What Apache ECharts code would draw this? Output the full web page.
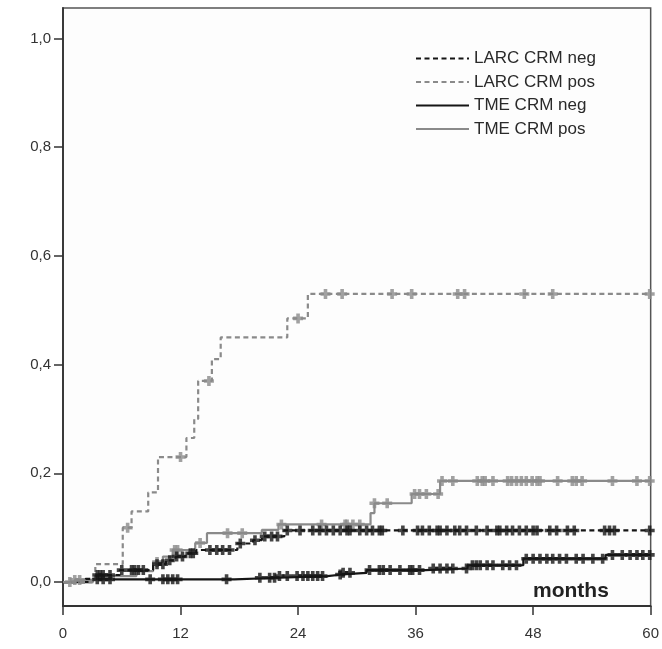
<!DOCTYPE html>
<html>
<head>
<meta charset="utf-8">
<script src="https://cdn.jsdelivr.net/npm/echarts@6/dist/echarts.min.js"></script>
<style>
html,body{margin:0;padding:0;background:#fff;}
#c{width:662px;height:649px;}
</style>
</head>
<body>
<div id="c"></div>
<script>
// Series names
var seriesNames = ['LARC CRM neg', 'LARC CRM pos', 'TME CRM neg', 'TME CRM pos'];
// X tick labels (months)
var xTicks = [0, 12, 24, 36, 48, 60];
// Y tick values
var yTicks = [0, 0.2, 0.4, 0.6, 0.8, 1.0];

// Cumulative incidence step events [month, value]
var larcNegSteps = [[0,0],[2.3,0.006],[3.3,0.013],[5.8,0.022],[9.2,0.033],[10.5,0.040],[11.5,0.047],[12.5,0.053],[13.6,0.059],[17.8,0.071],[19.4,0.077],[20.3,0.084],[22.6,0.095],[60,0.095]];
var larcPosSteps = [[0,0],[3.3,0.033],[6.1,0.10],[7.0,0.13],[8.7,0.165],[9.7,0.23],[12.6,0.265],[13.4,0.30],[13.8,0.37],[15.2,0.41],[16.1,0.45],[22.9,0.485],[25.0,0.53],[60,0.53]];
var tmeNegSteps = [[0,0],[3.0,0.005],[17.5,0.008],[22.0,0.011],[27.0,0.014],[28.5,0.017],[31.0,0.022],[37.0,0.025],[41.3,0.031],[47.0,0.043],[55.4,0.050],[60,0.050]];
var tmePosSteps = [[0,0],[1.2,0.004],[5.0,0.011],[7.5,0.020],[9.2,0.037],[10.2,0.047],[11.2,0.059],[13.5,0.072],[14.7,0.090],[20.3,0.096],[22.0,0.106],[31.4,0.127],[31.8,0.145],[35.6,0.162],[38.5,0.186],[60,0.186]];

// Censoring times (months)
var larcNegCensor = [3.5,3.8,4.1,4.8,6,7,7.3,7.7,8.2,9.6,10.2,10.9,11.6,12.2,13,13.3,15,15.7,16.3,17,18.1,19.6,20.6,21.3,21.9,22.9,24.2,25.5,26.2,26.9,27.6,28.3,29,29.3,30.3,31,31.6,32.3,32.6,34.7,36.2,36.7,37.4,38.2,38.5,39.2,40,40.5,41.2,42.2,43.3,44.3,44.6,45.3,45.9,46.6,47.3,48,48.4,49.7,50.4,51.5,52.2,55.3,55.8,56.3,59.9];
var larcPosCensor = [6.6,12.0,14.9,24.0,26.8,28.5,33.6,35.6,40.3,41.0,47.1,50.0,59.9];
var tmeNegCensor = [3.5,4.1,4.8,8.9,10.2,10.7,11.2,11.7,16.7,20.1,21.1,21.6,22.1,22.9,23.9,24.5,25,25.5,26,26.5,28.3,28.6,29.3,31.3,32.3,32.7,33.4,34.4,35.4,35.7,36.4,37.8,38.5,39.2,39.8,41.2,41.8,42.2,42.6,43.3,43.9,44.9,45.6,46.3,47.3,48,48.7,49.4,50,50.7,51.4,52.4,53.1,54.1,55.1,56.1,57.1,57.9,58.6,59.2,59.9];
var tmePosCensor = [0.7,1.2,1.7,9.6,11.4,11.7,14,16.8,18.3,22.3,26.4,28.8,29,29.6,30.3,31.8,33.1,35.9,36.4,37.1,38.3,38.7,39.8,42.3,42.8,43.1,43.9,45.4,45.8,46.3,46.8,47.3,47.9,48.4,48.7,50.5,52,52.4,53,56.1,58.6,59.9];

function stepValue(steps, t) {
  var v = steps[0][1];
  for (var i = 0; i < steps.length; i++) { if (steps[i][0] <= t) v = steps[i][1]; }
  return v;
}
function censorPoints(steps, times) {
  return times.map(function (t) { return [t, stepValue(steps, t)]; });
}

var BLACK = '#151515', GRAY = '#8a8a8a';
var plus = 'path://M3.2,0H6.8V3.2H10V6.8H6.8V10H3.2V6.8H0V3.2H3.2Z';
var fontFam = 'Arial, "Liberation Sans", sans-serif';

function lineSeries(name, steps, color, dashed) {
  return {
    name: name, type: 'line', step: 'end', data: steps, symbol: 'none',
    lineStyle: { color: color, width: 2.2, type: dashed ? [5, 3.5] : 'solid' },
    itemStyle: { color: color }, z: 3
  };
}
function censorSeries(name, steps, times, color) {
  return {
    name: name + ' censor', type: 'scatter', data: censorPoints(steps, times),
    symbol: plus, symbolSize: 10, itemStyle: { color: color }, z: 4, silent: true
  };
}

var chart = echarts.init(document.getElementById('c'), null, { renderer: 'canvas' });
chart.setOption({
  animation: false,
  backgroundColor: '#ffffff',
  grid: { left: 63, right: 11, top: 8, bottom: 43, show: true, borderColor: '#555', borderWidth: 1.5, backgroundColor: '#fdfdfd' },
  legend: {
    data: seriesNames, orient: 'vertical', left: 415, top: 50, padding: 0,
    itemWidth: 53, itemHeight: 17, itemGap: 6.5,
    itemStyle: { color: 'rgba(0,0,0,0)', borderColor: 'rgba(0,0,0,0)', borderWidth: 0 },
    textStyle: { fontFamily: fontFam, fontSize: 17, color: '#2a2a2a' }
  },
  xAxis: {
    type: 'value', min: 0, max: 60, interval: 12,
    axisLine: { show: true, onZero: false, lineStyle: { color: '#333', width: 1.8 } },
    axisTick: { show: true, length: 9, lineStyle: { color: '#333', width: 1.5 } },
    axisLabel: { fontFamily: fontFam, fontSize: 15, color: '#333', margin: 20 },
    splitLine: { show: false }
  },
  yAxis: {
    type: 'value', min: -0.044, max: 1.056,
    axisLine: { show: true, onZero: false, lineStyle: { color: '#333', width: 1.8 } },
    axisTick: { show: true, length: 9, customValues: yTicks, lineStyle: { color: '#333', width: 1.5 } },
    axisLabel: { customValues: yTicks, fontFamily: fontFam, fontSize: 15, color: '#333', margin: 12,
      formatter: function (v) { return v.toFixed(1).replace('.', ','); } },
    splitLine: { show: false }
  },
  graphic: [{
    type: 'text', left: 533, top: 581,
    style: { text: 'months', font: 'bold 21px ' + fontFam, fill: '#222' }
  }],
  series: [
    lineSeries(seriesNames[2], tmeNegSteps, BLACK, false),
    lineSeries(seriesNames[3], tmePosSteps, GRAY, false),
    lineSeries(seriesNames[0], larcNegSteps, BLACK, true),
    lineSeries(seriesNames[1], larcPosSteps, GRAY, true),
    censorSeries(seriesNames[2], tmeNegSteps, tmeNegCensor, BLACK),
    censorSeries(seriesNames[3], tmePosSteps, tmePosCensor, GRAY),
    censorSeries(seriesNames[0], larcNegSteps, larcNegCensor, BLACK),
    censorSeries(seriesNames[1], larcPosSteps, larcPosCensor, GRAY)
  ]
});
</script>
</body>
</html>
